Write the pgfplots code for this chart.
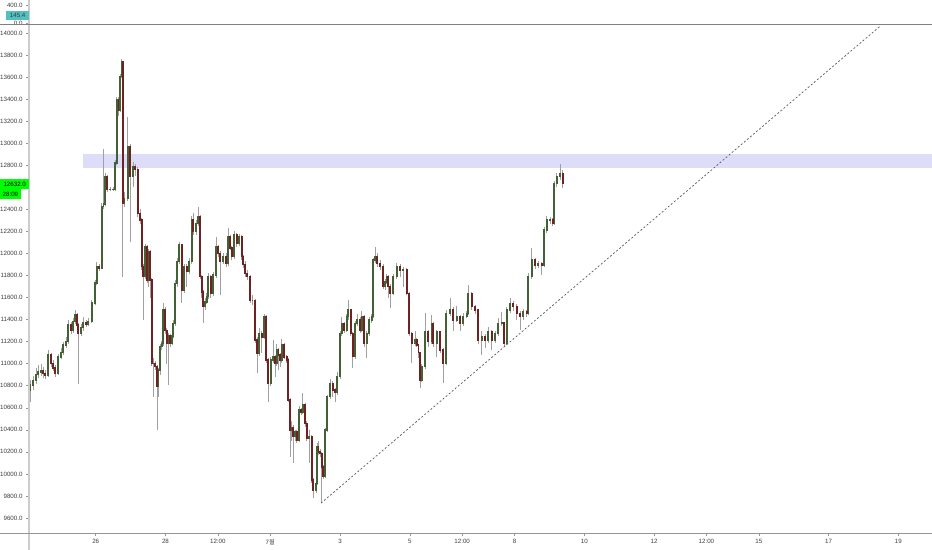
\documentclass[border=0pt]{standalone}
\usepackage{fontspec}
\setmainfont{Liberation Sans}
\newfontfamily\cjk{Noto Sans CJK KR}
\usepackage{pgfplots}
\pgfplotsset{compat=1.18}
\usepackage{pgfplotstable}
\definecolor{upc}{RGB}{66,98,54}
\definecolor{dnc}{RGB}{112,34,34}
\definecolor{wickc}{RGB}{160,160,160}
\definecolor{bandc}{RGB}{221,221,250}
\definecolor{axc}{RGB}{150,150,150}
\definecolor{lblc}{RGB}{60,60,60}
\definecolor{tealc}{RGB}{80,192,192}
\definecolor{grn}{RGB}{0,255,0}

\pgfplotstableread{
d O H L C
-1.883 10760 10850 10650 10806
-1.797 10806 10890 10760 10850
-1.711 10850 10960 10820 10900
-1.645 10900 10990 10870 10926
-1.567 10926 11000 10890 10940
-1.510 10940 10970 10870 10910
-1.453 10910 10940 10860 10897
-1.358 10897 11120 10880 11078
-1.280 11078 11100 10970 11000
-1.223 11000 11030 10930 10960
-1.166 10960 10990 10880 10915
-1.072 10915 11090 10900 11060
-0.994 11060 11140 11040 11100
-0.928 11100 11200 11080 11169
-0.851 11169 11240 11140 11200
-0.785 11200 11400 11180 11350
-0.708 11350 11380 11270 11300
-0.650 11300 11410 11280 11380
-0.593 11380 11490 11360 11441
-0.536 11441 11460 11320 11350
-0.499 11350 11370 10820 11277
-0.421 11277 11360 11250 11330
-0.355 11330 11420 11300 11368
-0.278 11368 11400 11330 11360
-0.212 11360 11410 11340 11380
-0.115 11380 11580 11370 11550
-0.020 11550 11760 11530 11731
0.029 11731 11920 11710 11880
0.095 11880 11900 11840 11868
0.172 11868 12460 11860 12424
0.223 12424 12947 12400 12450
0.266 12450 12730 12430 12696
0.324 12696 12710 12560 12582
0.410 12582 12600 12570 12582
0.496 12582 12600 12570 12582
0.553 12582 12850 12570 12820
0.602 12820 13420 12800 13392
0.653 13392 13420 13250 13300
0.696 13300 13630 13280 13604
0.745 13604 13765 13590 13740
0.771 13740 13750 11789 12457
0.825 12457 12560 12420 12500
0.917 12500 13240 12480 12968
0.983 12968 12990 12100 12696
1.077 12696 12830 12600 12787
1.126 12787 12810 12700 12760
1.203 12760 12780 12330 12364
1.269 12364 12400 12270 12303
1.318 12303 12320 11850 11880
1.364 11880 11900 11400 11789
1.413 11789 12090 11770 12061
1.470 12061 12080 11730 11760
1.507 11760 12040 11700 12015
1.556 12015 12030 11600 11760
1.605 11760 11780 10980 11003
1.650 11003 11050 10700 11003
1.699 11003 11020 10940 10972
1.765 10972 10990 10400 10791
1.799 10791 10960 10700 10942
1.842 10942 11180 10900 11153
1.891 11153 11210 11120 11184
1.937 11184 11550 11160 11487
1.986 11487 11510 11270 11300
2.034 11300 11320 11000 11184
2.080 11184 11280 10810 11250
2.129 11250 11270 11150 11184
2.186 11184 11280 11170 11250
2.223 11250 11400 11230 11366
2.272 11366 11760 11340 11729
2.338 11729 11960 11700 11925
2.395 11925 12100 11900 12076
2.464 12076 12090 11550 11668
2.530 11668 11900 11640 11880
2.607 11880 11900 11700 11834
2.682 11834 11960 11810 11925
2.751 11925 12340 11900 12303
2.797 12303 12370 12170 12197
2.874 12197 12300 12170 12273
2.940 12273 12420 12250 12333
2.989 12333 12350 11770 11789
3.037 11789 11800 11600 11650
3.083 11650 11670 11370 11516
3.132 11516 11600 11490 11560
3.181 11560 11640 11540 11607
3.226 11607 11820 11590 11789
3.295 11789 11800 11600 11637
3.370 11637 11830 11610 11804
3.447 11804 12150 11780 12061
3.504 12061 12080 11970 12000
3.562 12000 12020 11620 11925
3.656 11925 12000 11900 11970
3.734 11970 12000 11880 11910
3.799 11910 12230 11890 12152
3.848 12152 12170 12030 12050
3.897 12050 12070 11940 11970
3.963 11970 12200 11950 12167
4.040 12167 12190 12060 12092
4.115 12092 12180 12070 12152
4.183 12152 12170 11940 11970
4.229 11970 11990 11870 11900
4.278 11900 11930 11790 11819
4.344 11819 11850 11760 11790
4.421 11790 11800 11550 11576
4.493 11576 11620 11530 11576
4.564 11576 11590 11190 11215
4.630 11215 11240 10915 11094
4.688 11094 11320 11070 11275
4.756 11275 11300 11100 11240
4.822 11240 11450 11220 11426
4.880 11426 11440 11010 11033
4.946 11033 11050 10654 10821
5.014 10821 11060 10800 11033
5.089 11033 11214 11010 11063
5.138 11063 11080 10880 11000
5.186 11000 11180 10980 11123
5.238 11123 11140 10940 11080
5.281 11080 11100 10970 11033
5.330 11033 11220 11010 11169
5.395 11169 11190 11040 11060
5.473 11060 11080 11010 11033
5.519 11033 11050 10650 10670
5.567 10670 10690 10155 10397
5.616 10397 10480 10300 10420
5.662 10420 10440 10095 10337
5.711 10337 10400 10300 10380
5.759 10380 10400 10280 10307
5.834 10307 10620 10290 10579
5.883 10579 10600 10530 10560
5.931 10560 10733 10540 10624
5.997 10624 10640 10430 10458
6.046 10458 10480 10300 10322
6.120 10322 10400 10100 10337
6.189 10337 10350 9920 9944
6.235 9944 9960 9780 9853
6.312 9853 9950 9830 9914
6.350 9914 10280 9900 10246
6.384 10246 10300 10170 10200
6.427 10200 10230 10150 10186
6.476 10186 10200 9735 10064
6.521 10064 10080 9950 9974
6.570 9974 10420 9960 10397
6.636 10397 10720 10380 10700
6.713 10700 10860 10680 10821
6.791 10821 10840 10700 10760
6.857 10760 10780 10650 10740
6.923 10740 10920 10720 10881
7.000 10881 11300 10860 11275
7.049 11275 11420 11250 11366
7.115 11366 11380 11280 11305
7.192 11305 11450 11290 11426
7.238 11426 11580 11400 11487
7.307 11487 11500 11250 11275
7.364 11275 11290 10960 11063
7.430 11063 11390 11040 11366
7.496 11366 11450 11340 11396
7.573 11396 11420 11280 11305
7.622 11305 11480 11290 11426
7.688 11426 11440 11150 11184
7.765 11184 11300 11050 11275
7.840 11275 11420 11250 11396
7.908 11396 11450 11370 11426
7.954 11426 11960 11410 11940
8.003 11940 12061 11910 11970
8.069 11970 12000 11880 11910
8.146 11910 11940 11850 11880
8.241 11880 11900 11680 11698
8.290 11698 11770 11670 11740
8.338 11740 11810 11720 11789
8.384 11789 11800 11600 11700
8.433 11700 11720 11504 11637
8.527 11637 11810 11620 11789
8.625 11789 11910 11770 11880
8.719 11880 11900 11790 11850
8.814 11850 11880 11700 11850
8.911 11850 11870 11620 11637
8.986 11637 11650 11250 11275
9.054 11275 11290 11003 11184
9.149 11184 11300 11160 11214
9.198 11214 11230 11150 11169
9.249 11169 11180 11050 11100
9.292 11100 11110 10776 10851
9.341 10851 11000 10830 10972
9.436 10972 11456 10950 11290
9.530 11290 11310 11150 11199
9.628 11199 11441 11180 11366
9.673 11366 11380 11150 11184
9.771 11184 11310 11060 11290
9.865 11290 11300 11100 11123
9.960 11123 11140 10824 11003
10.037 11003 11490 10990 11456
10.152 11456 11600 11430 11487
10.246 11487 11510 11300 11396
10.344 11396 11520 11380 11426
10.438 11426 11440 11300 11366
10.533 11366 11460 11340 11426
10.630 11426 11480 11410 11456
10.676 11456 11713 11440 11637
10.774 11637 11650 11490 11516
10.868 11516 11530 11450 11487
10.963 11487 11500 11180 11214
11.060 11214 11300 11078 11245
11.155 11245 11270 11140 11214
11.249 11214 11330 11190 11290
11.347 11290 11310 11123 11214
11.441 11214 11300 11190 11275
11.536 11275 11410 11250 11366
11.633 11366 11470 11340 11370
11.708 11370 11380 11160 11184
11.777 11184 11510 11170 11487
11.871 11487 11600 11460 11547
11.966 11547 11570 11480 11516
12.063 11516 11540 11400 11456
12.158 11456 11480 11305 11426
12.252 11426 11500 11400 11470
12.350 11470 11490 11420 11456
12.395 11456 11820 11440 11789
12.493 11789 12049 11770 11940
12.587 11940 11960 11860 11895
12.682 11895 11930 11870 11910
12.779 11910 11920 11804 11895
12.845 11895 12240 11880 12212
12.923 12212 12340 12190 12303
13.017 12303 12330 12270 12303
13.095 12303 12320 12250 12273
13.132 12273 12660 12260 12636
13.209 12636 12730 12600 12696
13.304 12696 12810 12670 12727
13.381 12727 12760 12590 12632
}\candles

\pgfplotsset{
  tvfmt/.style={
    /pgf/number format/fixed,
    /pgf/number format/fixed zerofill,
    /pgf/number format/precision=1,
    /pgf/number format/1000 sep={},
    /pgf/number format/assume math mode=true,
  },
}

\begin{document}
\begin{tikzpicture}
\useasboundingbox (0bp,0bp) rectangle (932bp,550bp);
% top (indicator) panel
\begin{axis}[
  at={(29bp,526bp)}, anchor=south west, width=903bp, height=24bp, scale only axis,
  xmin=-1.911, xmax=23.963, ymin=-22, ymax=511,
  axis line style={draw=none},
  xtick=\empty, ytick={0,400}, tick pos=left,
  scaled y ticks=false,
  tick align=outside, major tick length=3bp,
  tick style={axc, line width=0.5bp},
  tick label style={font=\fontsize{6.2}{7}\selectfont, text=lblc},
  yticklabel style={tvfmt},
]
\addplot[draw=none] coordinates {(0,0)};
\end{axis}
% main price panel
\begin{axis}[
  at={(29bp,17bp)}, anchor=south west, width=903bp, height=509bp, scale only axis,
  xmin=-1.911, xmax=23.963, ymin=9463.9, ymax=14081.7,
  axis line style={draw=none},
  tick pos=left, tick align=outside, major tick length=3bp,
  tick style={axc, line width=0.5bp},
  scaled y ticks=false,
  ytick={9600,9800,...,14000},
  yticklabels={9600.0,9800.0,10000.0,10200.0,10400.0,10600.0,10800.0,11000.0,11200.0,11400.0,11600.0,11800.0,12000.0,12200.0,12400.0,,12800.0,13000.0,13200.0,13400.0,13600.0,13800.0,14000.0},
  xtick={0,2,3.5,5,7,9,10.5,12,14,16,17.5,19,21,23},
  xticklabels={26,28,12:00,7{\cjk 월},3,5,12:00,8,10,12,12:00,15,17,19},
  tick label style={font=\fontsize{6.2}{7}\selectfont, text=lblc},
  unbounded coords=discard,
]
\addplot[fill=bandc, draw=none] coordinates {(-0.364,12775) (23.963,12775) (23.963,12902) (-0.364,12902)} -- cycle;
% wicks
\addplot[draw=none, mark=none,
  error bars/.cd, y dir=plus, y explicit, error mark=none,
  error bar style={draw=wickc, line width=0.9bp, line cap=butt}]
  table[x=d, y=L, y error expr=\thisrow{H}-\thisrow{L}] {\candles};
% up bodies
\addplot[draw=none, mark=none,
  error bars/.cd, y dir=both, y explicit, error mark=none,
  error bar style={draw=upc, line width=1.8bp, line cap=butt}]
  table[x=d, y expr={\thisrow{C}>=\thisrow{O} ? (\thisrow{O}+\thisrow{C})/2 : nan},
        y error expr={abs(\thisrow{C}-\thisrow{O})/2+6}] {\candles};
% down bodies
\addplot[draw=none, mark=none,
  error bars/.cd, y dir=both, y explicit, error mark=none,
  error bar style={draw=dnc, line width=1.8bp, line cap=butt}]
  table[x=d, y expr={\thisrow{C}<\thisrow{O} ? (\thisrow{O}+\thisrow{C})/2 : nan},
        y error expr={abs(\thisrow{C}-\thisrow{O})/2+6}] {\candles};
% trend line
\addplot[draw=black!65, line width=0.7bp, dash pattern=on 2bp off 2bp] coordinates {(6.456,9735) (22.49,14066)};
\end{axis}
% frame lines
\draw[black!20, line width=1.2bp] (29bp,0bp) -- (29bp,550bp);
\draw[axc, line width=0.8bp] (0bp,17bp) -- (932bp,17bp);
\draw[black!50, line width=0.8bp] (0bp,526bp) -- (932bp,526bp);
% price labels
\node[fill=grn, anchor=north west, minimum width=29bp, minimum height=9.4bp, inner sep=0pt,
  font=\fontsize{6.2}{7}\selectfont] at (0bp,371bp) {12632.0};
\node[fill=grn, anchor=north west, minimum width=20.5bp, minimum height=9.4bp, inner sep=0pt,
  font=\fontsize{6.2}{7}\selectfont] at (0bp,360.8bp) {28:09};
\node[fill=tealc, anchor=north west, minimum width=23bp, minimum height=9bp, inner sep=0pt,
  font=\fontsize{6.2}{7}\selectfont, text=lblc] at (6bp,539.5bp) {145.4};
\end{tikzpicture}
\end{document}
